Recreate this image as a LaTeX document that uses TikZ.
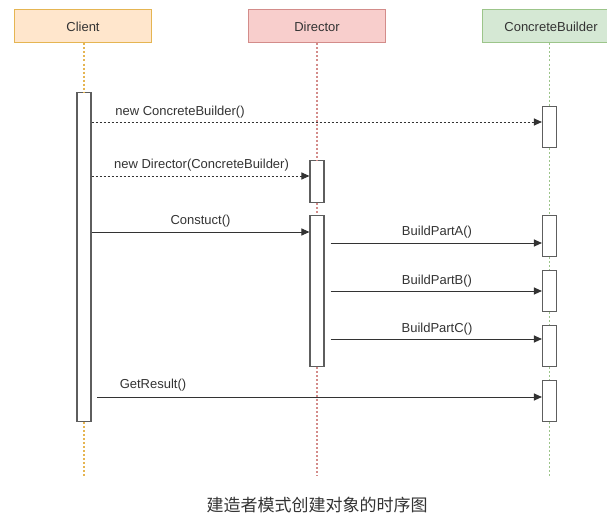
\documentclass[tikz,border=0pt]{standalone}
\usepackage{fontspec}
\setmainfont{Liberation Sans}
\newfontfamily\cjkfont{Noto Sans CJK SC}
\usepackage{tikz}
\usetikzlibrary{arrows.meta, positioning}
\definecolor{clientfill}{HTML}{FFE6CC}
\definecolor{clientline}{HTML}{E5B552}
\definecolor{directorfill}{HTML}{F8CECC}
\definecolor{directorline}{HTML}{D38C8A}
\definecolor{builderfill}{HTML}{D5E8D4}
\definecolor{builderline}{HTML}{9CC58A}
\definecolor{actgray}{HTML}{5E5E5E}
\definecolor{textgray}{HTML}{333333}
\tikzset{
  actor/.style={rectangle, draw, line width=1pt, minimum width=137pt,
                minimum height=33pt, inner sep=0pt, text=textgray,
                font=\fontsize{13}{15}\selectfont},
  clientbox/.style={actor, fill=clientfill, draw=clientline},
  directorbox/.style={actor, fill=directorfill, draw=directorline},
  builderbox/.style={actor, fill=builderfill, draw=builderline},
  lifeline/.style={line width=1.1pt, dash pattern=on 2pt off 2pt},
  activation/.style={rectangle, draw=actgray, fill=white, line width=1.1pt,
                     minimum width=14pt, inner sep=0pt, anchor=north},
  call/.style={-{Triangle[length=8pt, width=7pt]}, draw=textgray, line width=1pt},
  create/.style={call, dash pattern=on 2pt off 2pt},
  msg/.style={font=\fontsize{13}{15}\selectfont, text=textgray, inner sep=0pt},
}

\begin{document}
\begin{tikzpicture}[x=1pt, y=-1pt]
  \useasboundingbox (0,0) rectangle (607,519);
  \clip (0,0) rectangle (607,519);

  % participants
  \node[clientbox] (client) at (83,26.5) {Client};
  \node[directorbox, right=96pt of client] (director) {Director};
  \node[builderbox, right=96pt of director] (builder) {ConcreteBuilder};

  % activations
  \node[activation, minimum height=329pt] (act-c)  at (84,92)  {};
  \node[activation, minimum height=42pt]  (act-d1) at (317,160) {};
  \node[activation, minimum height=151pt] (act-d2) at (317,215) {};
  \node[activation, minimum height=41pt]  (act-b1) at (549.5,106) {};
  \node[activation, minimum height=41pt]  (act-b2) at (549.5,215) {};
  \node[activation, minimum height=41pt]  (act-b3) at (549.5,270) {};
  \node[activation, minimum height=41pt]  (act-b4) at (549.5,325) {};
  \node[activation, minimum height=41pt]  (act-b5) at (549.5,380) {};

  % lifelines
  \coordinate (end) at (0,476);
  \draw[lifeline, draw=clientline]   (act-c.north |- client.south)  -- (act-c.north);
  \draw[lifeline, draw=clientline]   (act-c.south)  -- (act-c.south |- end);
  \draw[lifeline, draw=directorline] (act-d1.north |- director.south) -- (act-d1.north);
  \draw[lifeline, draw=directorline] (act-d1.south) -- (act-d2.north);
  \draw[lifeline, draw=directorline] (act-d2.south) -- (act-d2.south |- end);
  \draw[lifeline, draw=builderline]  (act-b1.north |- builder.south) -- (act-b1.north);
  \draw[lifeline, draw=builderline]  (act-b1.south) -- (act-b2.north);
  \draw[lifeline, draw=builderline]  (act-b2.south) -- (act-b3.north);
  \draw[lifeline, draw=builderline]  (act-b3.south) -- (act-b4.north);
  \draw[lifeline, draw=builderline]  (act-b4.south) -- (act-b5.north);
  \draw[lifeline, draw=builderline]  (act-b5.south) -- (act-b5.south |- end);

  % message levels
  \coordinate (m1) at (0,122);
  \coordinate (m2) at (0,176);
  \coordinate (m3) at (0,232);
  \coordinate (m4) at (0,243);
  \coordinate (m5) at (0,291);
  \coordinate (m6) at (0,339);
  \coordinate (m7) at (0,397);
  \coordinate (gr) at (97,397);

  \draw[create] (act-c.east |- m1) -- (act-b1.west |- m1);
  \draw[create] (act-c.east |- m2) -- (act-d1.west |- m2);
  \draw[call]   (act-c.east |- m3) -- (act-d2.west |- m3);
  \draw[call]   ([xshift=6pt]act-d2.east |- m4) -- (act-b2.west |- m4);
  \draw[call]   ([xshift=6pt]act-d2.east |- m5) -- (act-b3.west |- m5);
  \draw[call]   ([xshift=6pt]act-d2.east |- m6) -- (act-b4.west |- m6);
  \draw[call]   (gr) -- (act-b5.west |- m7);

  % message labels
  \node[msg] (l-newcb)  at (180,112)   {new ConcreteBuilder()};
  \node[msg] (l-newdir) at (201.5,165) {new Director(ConcreteBuilder)};
  \node[msg] (l-cons)   at (200.5,221) {Constuct()};
  \node[msg] (l-parta)  at (437,232)   {BuildPartA()};
  \node[msg] (l-partb)  at (437,281)   {BuildPartB()};
  \node[msg] (l-partc)  at (437,329)   {BuildPartC()};
  \node[msg] (l-result) at (153,385)   {GetResult()};

  % caption
  \node[text=textgray, font=\cjkfont\fontsize{17}{20}\selectfont] (caption)
    at (317,505) {建造者模式创建对象的时序图};
\end{tikzpicture}
\end{document}
